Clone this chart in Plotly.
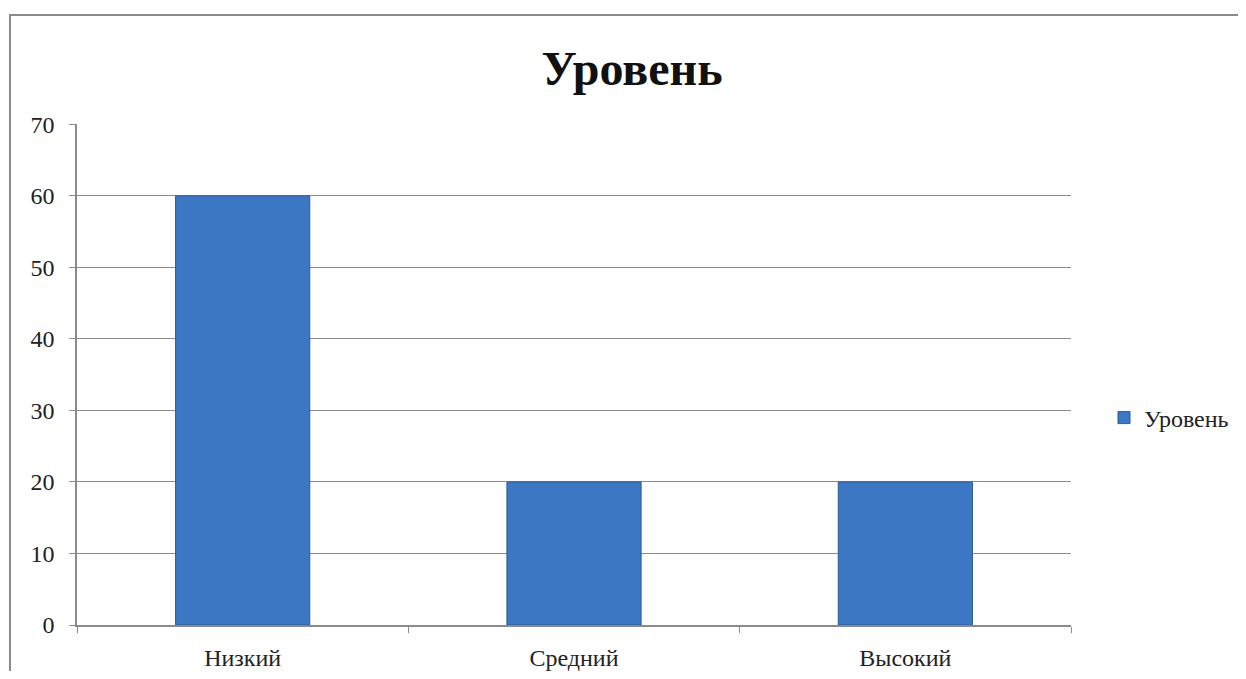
import plotly.graph_objects as go

categories = ["Низкий", "Средний", "Высокий"]
values = [60, 20, 20]
series_name = "Уровень"
y_ticks = [0, 10, 20, 30, 40, 50, 60, 70]

# page body has an 8px margin; figure coords = reference coords - 8
OFF = 8
W, H = 1230, 663
L, T = 77 - OFF, 124 - OFF
R = W - (1071 - OFF)
B = H - (625 - OFF)
pw, ph = W - L - R, H - T - B

def px_x(x):
    return (x - OFF - L) / pw

def px_y(y):
    return (H - B - (y - OFF)) / ph

fig = go.Figure()
fig.add_trace(go.Bar(
    x=categories, y=values, name=series_name, width=0.405,
    marker=dict(color="#3c77c4", line=dict(color="#2c5a95", width=1)),
    showlegend=True,
))

font_family = "Liberation Serif, Times New Roman, serif"
fig.update_layout(
    width=W, height=H,
    margin=dict(l=L, r=R, t=T, b=B, autoexpand=False),
    paper_bgcolor="white", plot_bgcolor="white",
    font=dict(family=font_family, size=24, color="#222"),
    title=dict(text="<b>Уровень</b>", font=dict(family=font_family, size=48, color="#111"),
               x=px_x(632), xref="paper", xanchor="center",
               y=1 - (68 - OFF) / H, yref="container", yanchor="middle"),
    showlegend=True,
    legend=dict(x=px_x(1104), y=px_y(418), xanchor="left", yanchor="middle",
                font=dict(family=font_family, size=24, color="#222"),
                itemwidth=30, bgcolor="rgba(0,0,0,0)"),
    shapes=[dict(type="rect", xref="paper", yref="paper",
                 x0=px_x(10), x1=px_x(1244), y0=px_y(700), y1=px_y(15),
                 line=dict(color="#8a8a8a", width=2), layer="below")],
)
fig.update_xaxes(
    showline=True, linecolor="#8a8a8a", linewidth=1.5,
    ticks="outside", tickson="boundaries", ticklen=6, tickcolor="#8a8a8a",
    ticklabelstandoff=10,
    showgrid=False, tickfont=dict(size=24, family=font_family, color="#222"),
)
fig.update_yaxes(
    range=[0, 70.05], tickvals=y_ticks,
    showline=True, linecolor="#8a8a8a", linewidth=1.5,
    ticks="outside", ticklen=6, tickcolor="#8a8a8a",
    ticklabelstandoff=10,
    showgrid=True, gridcolor="#8a8a8a", gridwidth=1.2,
    zeroline=False, tickfont=dict(size=24, family=font_family, color="#222"),
)
fig.write_html("out.html")
